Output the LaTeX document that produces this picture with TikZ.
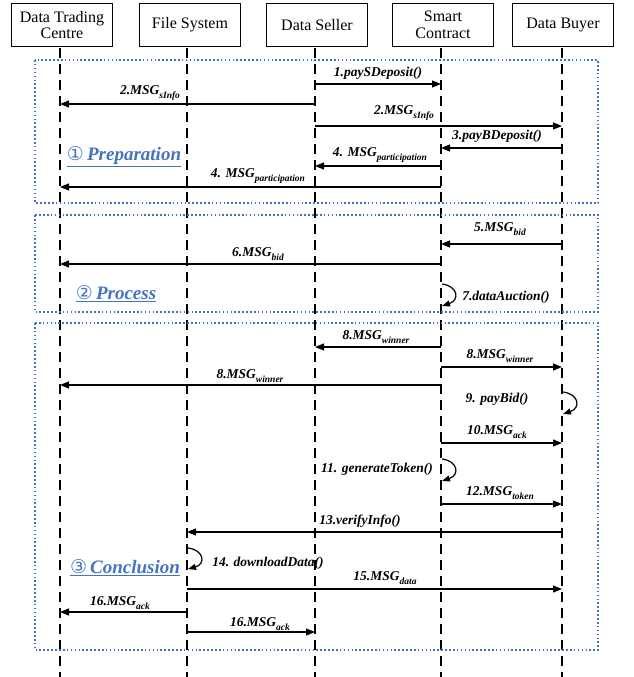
\documentclass[tikz,border=0pt]{standalone}
\usepackage{fontspec}
\setmainfont{Liberation Serif}
\newfontfamily\dejavu{DejaVu Sans}
\usetikzlibrary{arrows.meta}
\definecolor{phaseblue}{HTML}{4472C4}
\tikzset{
  actor/.style={draw, line width=1.3pt, minimum width=101pt, minimum height=43pt, align=center, inner sep=1pt, font=\fontsize{16}{16.5}\selectfont},
  lifeline/.style={line width=2.4pt, dash pattern=on 10pt off 6pt},
  msg/.style={line width=1.2pt, -{Triangle[length=9pt,width=7pt]}},
  selfmsg/.style={line width=1.2pt, -{Triangle[length=8pt,width=6pt]}},
  lbl/.style={font=\fontsize{13.5}{15}\selectfont\bfseries\itshape, inner sep=0pt},
  phasebox/.style={draw=phaseblue, line width=1.9pt, dash pattern=on 1.6pt off 2.3pt},
  phase/.style={text=phaseblue, font=\fontsize{19}{20}\selectfont\bfseries\itshape, inner sep=0pt},
}
\newcommand{\phaseul}[2]{\underline{{\dejavu\mdseries\upshape #1}\,#2}}
\newcommand{\mysub}[1]{\raisebox{-0.28em}{\fontsize{9.5}{10}\selectfont #1}}
\begin{document}
\begin{tikzpicture}[x=1pt,y=-1pt]
\useasboundingbox (0,0) rectangle (634,677);
% actors
\node[actor] (dtc) at (62,25) {Data Trading\\Centre};
\node[actor] (fs) at (190,25) {File System};
\node[actor] (ds) at (317,25) {Data Seller};
\node[actor] (sc) at (443,25) {Smart\\Contract};
\node[actor] (db) at (563,25) {Data Buyer};
% lifeline coordinates
\coordinate (Ldtc) at (60,0);
\coordinate (Lfs) at (187,0);
\coordinate (Lds) at (315,0);
\coordinate (Lsc) at (441,0);
\coordinate (Ldb) at (562,0);
\foreach \l in {dtc,fs,ds,sc,db}{
  \draw[lifeline] (L\l |- 0,48) -- (L\l |- 0,677);
}
% phase boxes
\draw[phasebox] (35,60) rectangle (598,203);
\draw[phasebox] (35,215) rectangle (598,312);
\draw[phasebox] (35,323) rectangle (598,650);
\node[phase] (p1) at (124,157) {\phaseul{①}{Preparation}};
\node[phase] (p2) at (116,294) {\phaseul{②}{Process}};
\node[phase] (p3) at (125,568) {\phaseul{③}{Conclusion}};
% messages
\draw[msg] (Lds |- 0,84) -- (Lsc |- 0,84);
\node[lbl] (m1) at (378,73) {1.paySDeposit()};
\draw[msg] (Lds |- 0,104) -- (Ldtc |- 0,104);
\node[lbl] (m2a) at (150,93) {2.MSG\mysub{sInfo}};
\draw[msg] (Lds |- 0,126) -- (Ldb |- 0,126);
\node[lbl] (m2b) at (404,113) {2.MSG\mysub{sInfo}};
\draw[msg] (Ldb |- 0,148) -- (Lsc |- 0,148);
\node[lbl] (m3) at (497,136) {3.payBDeposit()};
\draw[msg] (Lsc |- 0,166) -- (Lds |- 0,166);
\node[lbl] (m4a) at (380,155) {4. MSG\mysub{participation}};
\draw[msg] (Lsc |- 0,187) -- (Ldtc |- 0,187);
\node[lbl] (m4b) at (258,176) {4. MSG\mysub{participation}};
% process
\draw[msg] (Ldb |- 0,244) -- (Lsc |- 0,244);
\node[lbl] (m5) at (500,229) {5.MSG\mysub{bid}};
\draw[msg] (Lsc |- 0,264) -- (Ldtc |- 0,264);
\node[lbl] (m6) at (258,254) {6.MSG\mysub{bid}};
\coordinate (s7a) at (442,284);
\coordinate (s7b) at (442,306);
\draw[selfmsg] (s7a) .. controls (458,286) and (460,300) .. (s7b);
\node[lbl] (m7) at (506,297) {7.dataAuction()};
% conclusion
\draw[msg] (Lsc |- 0,347) -- (Lds |- 0,347);
\node[lbl] (m8a) at (376,337) {8.MSG\mysub{winner}};
\draw[msg] (Lsc |- 0,367) -- (Ldb |- 0,367);
\node[lbl] (m8b) at (500,356) {8.MSG\mysub{winner}};
\draw[msg] (Lsc |- 0,385) -- (Ldtc |- 0,385);
\node[lbl] (m8c) at (250,376) {8.MSG\mysub{winner}};
\coordinate (s9a) at (563,392);
\coordinate (s9b) at (563,414);
\draw[selfmsg] (s9a) .. controls (579,394) and (581,408) .. (s9b);
\node[lbl] (m9) at (497,399) {9. payBid()};
\draw[msg] (Lsc |- 0,443) -- (Ldb |- 0,443);
\node[lbl] (m10) at (497,432) {10.MSG\mysub{ack}};
\coordinate (s11a) at (442,459);
\coordinate (s11b) at (442,481);
\draw[selfmsg] (s11a) .. controls (458,461) and (460,475) .. (s11b);
\node[lbl] (m11) at (377,469) {11. generateToken()};
\draw[msg] (Lsc |- 0,504) -- (Ldb |- 0,504);
\node[lbl] (m12) at (500,493) {12.MSG\mysub{token}};
\draw[msg] (Ldb |- 0,532) -- (Lfs |- 0,532);
\node[lbl] (m13) at (360,521) {13.verifyInfo()};
\coordinate (s14a) at (188,548);
\coordinate (s14b) at (188,569);
\draw[selfmsg] (s14a) .. controls (204,550) and (206,564) .. (s14b);
\node[lbl] (m14) at (268,563) {14. downloadData()};
\draw[msg] (Lfs |- 0,589) -- (Ldb |- 0,589);
\node[lbl] (m15) at (385,578) {15.MSG\mysub{data}};
\draw[msg] (Lfs |- 0,612) -- (Ldtc |- 0,612);
\node[lbl] (m16a) at (120,603) {16.MSG\mysub{ack}};
\draw[msg] (Lfs |- 0,632) -- (Lds |- 0,632);
\node[lbl] (m16b) at (260,624) {16.MSG\mysub{ack}};
\end{tikzpicture}
\end{document}
